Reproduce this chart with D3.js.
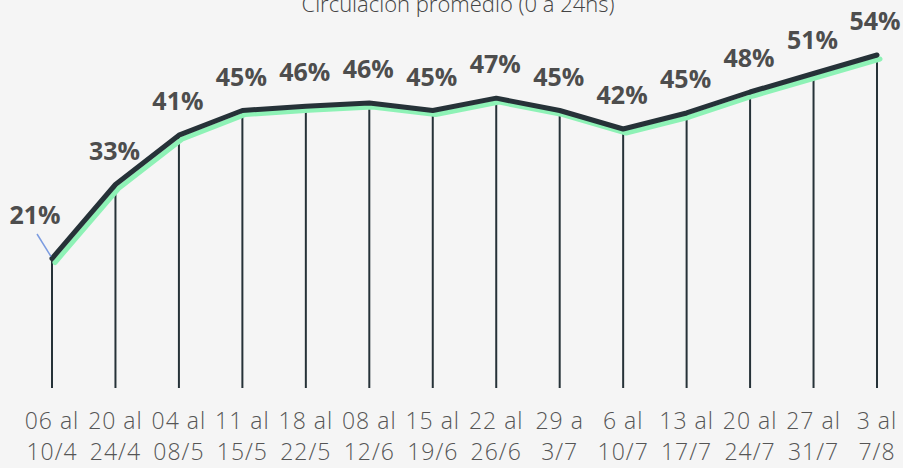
<!DOCTYPE html>
<html><head><meta charset="utf-8">
<script src="https://cdn.jsdelivr.net/npm/d3@7"></script>
<style>
html,body{margin:0;padding:0;background:#f5f5f5;}
svg{display:block;}
</style></head>
<body>
<svg id="c" width="903" height="468"></svg>
<script>
const categories = [
  ["06 al","10/4"],["20 al","24/4"],["04 al","08/5"],["11 al","15/5"],["18 al","22/5"],
  ["08 al","12/6"],["15 al","19/6"],["22 al","26/6"],["29 a","3/7"],["6 al","10/7"],
  ["13 al","17/7"],["20 al","24/7"],["27 al","31/7"],["3 al","7/8"]
];
const values = [21, 33, 41, 45, 45.7, 46.2, 45, 47, 45, 42, 44.6, 48, 51, 54];
const title = "Circulación promedio (0 a 24hs)";

const svg = d3.select("#c");
const keys = categories.map((c,i)=>i);
const x = d3.scalePoint().domain(keys).range([52, 877]);
const y = d3.scaleLinear().domain([0, 54]).range([388, 55]);

// title (partially cut at top, as in the reference)
svg.append("text").attr("x", 458).attr("y", 12).attr("text-anchor","middle")
  .attr("font-family","Open Sans").attr("font-weight",300).attr("font-size",22)
  .attr("fill","#444").text(title);

// vertical drop lines
svg.append("g").selectAll("line").data(values).join("line")
  .attr("x1",(d,i)=>x(i)).attr("x2",(d,i)=>x(i))
  .attr("y1",d=>y(d)).attr("y2",y(0))
  .attr("stroke","#263238").attr("stroke-width",2);

const line = d3.line().x((d,i)=>x(i)).y(d=>y(d));
// green shadow
svg.append("path").datum(values).attr("d",line)
  .attr("transform","translate(3,4)")
  .attr("fill","none").attr("stroke","#8ef2b6").attr("stroke-width",5)
  .attr("stroke-linejoin","round").attr("stroke-linecap","round");
// dark line
svg.append("path").datum(values).attr("d",line)
  .attr("fill","none").attr("stroke","#263238").attr("stroke-width",5)
  .attr("stroke-linejoin","round").attr("stroke-linecap","round");

// leader for first label
svg.append("line").attr("x1",37).attr("y1",234).attr("x2",x(0)-1).attr("y2",y(values[0])-2)
  .attr("stroke","#7b9be0").attr("stroke-width",1.5);

// value labels
svg.append("g").selectAll("text").data(values).join("text")
  .attr("x",(d,i)=> i===0 ? x(i)-17 : (i===values.length-1 ? x(i)-2 : x(i)-1))
  .attr("y",(d,i)=> i===0 ? 224 : y(d)-25)
  .attr("text-anchor","middle")
  .attr("font-family","Open Sans").attr("font-weight",700).attr("font-size",25)
  .attr("fill","#4d4d4d")
  .text(d=>Math.round(d)+"%");

// x tick labels (two lines, separate text elements)
const g = svg.append("g")
  .attr("font-family","Open Sans").attr("font-weight",300).attr("font-size",23)
  .attr("letter-spacing",1).attr("fill","#555").attr("text-anchor","middle");
g.selectAll("text.l1").data(categories).join("text").attr("class","l1")
  .attr("x",(d,i)=>x(i)).attr("y",429).text(d=>d[0]);
g.selectAll("text.l2").data(categories).join("text").attr("class","l2")
  .attr("x",(d,i)=>x(i)).attr("y",460).text(d=>d[1]);
</script>
</body></html>
